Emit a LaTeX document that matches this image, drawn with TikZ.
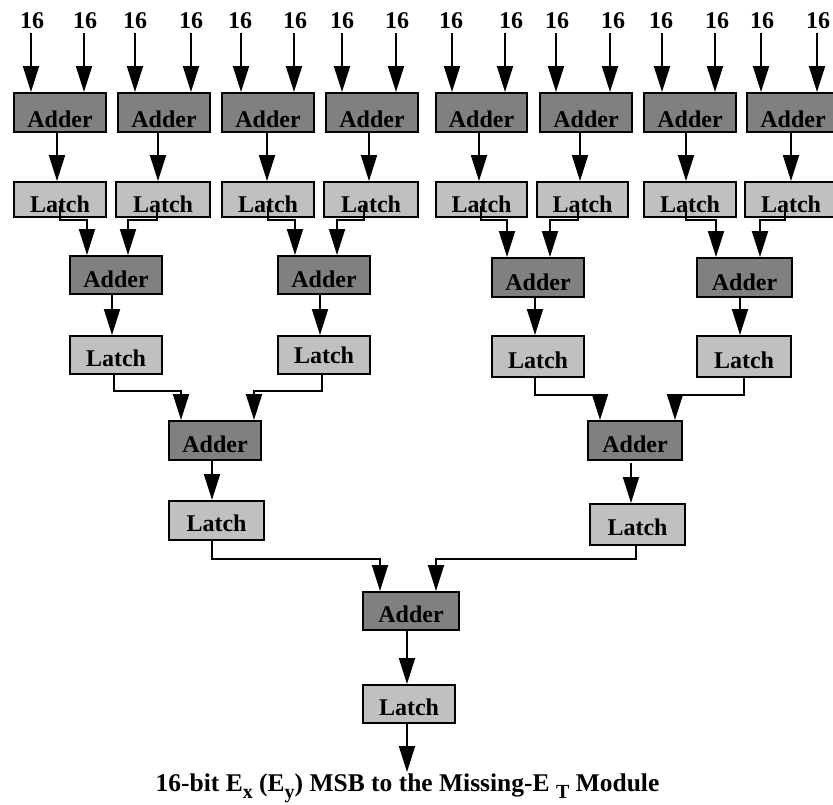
\documentclass[tikz,border=0pt]{standalone}
\usepackage{fontspec}
\setmainfont{Liberation Serif}
\usetikzlibrary{arrows.meta,calc}
\definecolor{adderfill}{RGB}{128,128,128}
\definecolor{latchfill}{RGB}{192,192,192}
\newcommand\lowsub[1]{\raisebox{-7pt}{\fontsize{20}{20}\selectfont #1}}
\begin{document}
\begin{tikzpicture}[x=1pt,y=-1pt,
  font=\fontsize{24}{28}\selectfont\bfseries,
  blk/.style={draw=black, line width=2pt, inner sep=0pt, anchor=center},
  adder/.style={blk, fill=adderfill},
  latch/.style={blk, fill=latchfill},
  lab/.style={inner sep=0pt, anchor=base},
  arr/.style={line width=2pt, line join=miter, -{Triangle[length=26pt,width=16pt]}}]
\fill[white] (0,0) rectangle (833,804);
\useasboundingbox (0,0) rectangle (833,804);
\clip (0,0) rectangle (833,804);

% ---------- input labels ----------
\foreach \n/\lx/\ax in {1/32/31,2/85/84,3/135/135,4/191/191,5/240/241,6/295/294,7/342/342,8/397/396,
  9/451/452,10/511/505,11/557/556,12/613/610,13/661/662,14/717/715,15/762/761,16/818/817}{
  \node[lab] (i\n) at (\lx,28) {16};
  \coordinate (p\n) at (\ax,33);
}

% ---------- level 1 adders ----------
\node[adder, minimum width=92pt, minimum height=39pt, text height=34pt, text depth=5pt] (a1) at (60,112.5) {Adder};
\node[adder, minimum width=92pt, minimum height=39pt, text height=34pt, text depth=5pt] (a2) at (164,112.5) {Adder};
\node[adder, minimum width=92pt, minimum height=39pt, text height=34pt, text depth=5pt] (a3) at (268,112.5) {Adder};
\node[adder, minimum width=92pt, minimum height=39pt, text height=34pt, text depth=5pt] (a4) at (372,112.5) {Adder};
\node[adder, minimum width=91pt, minimum height=39pt, text height=34pt, text depth=5pt] (a5) at (481.5,112.5) {Adder};
\node[adder, minimum width=92pt, minimum height=39pt, text height=34pt, text depth=5pt] (a6) at (586,112.5) {Adder};
\node[adder, minimum width=92pt, minimum height=39pt, text height=34pt, text depth=5pt] (a7) at (690,112.5) {Adder};
\node[adder, minimum width=92pt, minimum height=39pt, text height=34pt, text depth=5pt] (a8) at (793,112.5) {Adder};

% ---------- level 1 latches ----------
\node[latch, minimum width=92pt, minimum height=35pt, text height=30pt, text depth=5pt] (l1) at (60,199.5) {Latch\hspace{6pt}};
\node[latch, minimum width=94pt, minimum height=35pt, text height=30pt, text depth=5pt] (l2) at (163,199.5) {Latch\hspace{6pt}};
\node[latch, minimum width=92pt, minimum height=35pt, text height=30pt, text depth=5pt] (l3) at (268,199.5) {Latch\hspace{6pt}};
\node[latch, minimum width=94pt, minimum height=35pt, text height=30pt, text depth=5pt] (l4) at (371,199.5) {Latch\hspace{6pt}};
\node[latch, minimum width=91pt, minimum height=35pt, text height=30pt, text depth=5pt] (l5) at (481.5,199.5) {Latch\hspace{6pt}};
\node[latch, minimum width=91pt, minimum height=35pt, text height=30pt, text depth=5pt] (l6) at (582.5,199.5) {Latch\hspace{6pt}};
\node[latch, minimum width=92pt, minimum height=35pt, text height=30pt, text depth=5pt] (l7) at (690,199.5) {Latch\hspace{6pt}};
\node[latch, minimum width=92pt, minimum height=35pt, text height=30pt, text depth=5pt] (l8) at (791,199.5) {Latch\hspace{6pt}};

% ---------- level 2 ----------
\node[adder, minimum width=92pt, minimum height=38pt, text height=31pt, text depth=7pt] (b1) at (116,275) {Adder};
\node[adder, minimum width=92pt, minimum height=38pt, text height=31pt, text depth=7pt] (b2) at (324,275) {Adder};
\node[adder, minimum width=92pt, minimum height=39pt, text height=32pt, text depth=7pt] (b3) at (538,277.5) {Adder};
\node[adder, minimum width=95pt, minimum height=39pt, text height=32pt, text depth=7pt] (b4) at (744.5,277.5) {Adder};

\node[latch, minimum width=92pt, minimum height=38pt, text height=30pt, text depth=8pt] (m1) at (116,355) {Latch\hspace{8pt}};
\node[latch, minimum width=92pt, minimum height=38pt, text height=27pt, text depth=11pt] (m2) at (324,355) {Latch\hspace{12pt}};
\node[latch, minimum width=92pt, minimum height=41pt, text height=32pt, text depth=9pt] (m3) at (538,356.5) {Latch\hspace{8pt}};
\node[latch, minimum width=94pt, minimum height=41pt, text height=32pt, text depth=9pt] (m4) at (744,356.5) {Latch\hspace{8pt}};

% ---------- level 3 ----------
\node[adder, minimum width=92pt, minimum height=39pt, text height=31pt, text depth=8pt] (c1) at (215,440.5) {Adder};
\node[adder, minimum width=94pt, minimum height=39pt, text height=31pt, text depth=8pt] (c2) at (635,440.5) {Adder};
\node[latch, minimum width=95pt, minimum height=39pt, text height=30pt, text depth=9pt] (n1) at (216.5,520.5) {Latch\hspace{12pt}};
\node[latch, minimum width=95pt, minimum height=41pt, text height=31pt, text depth=10pt] (n2) at (637.5,524.5) {Latch\hspace{8pt}};

% ---------- level 4 ----------
\node[adder, minimum width=96pt, minimum height=38pt, text height=30pt, text depth=8pt] (d) at (411,611) {Adder};
\node[latch, minimum width=92pt, minimum height=38pt, text height=30pt, text depth=8pt] (e) at (409,704) {Latch\hspace{6pt}};

\coordinate (out) at (407,772);
\node[lab, font=\fontsize{25.5}{30}\selectfont\bfseries] (cap) at (407.5,791)
  {16-bit E\lowsub{x} (E\lowsub{y}) MSB to the Missing-E \lowsub{T} Module};

% ---------- input arrows ----------
\draw[arr] (p1) -- (p1 |- a1.north);
\draw[arr] (p2) -- (p2 |- a1.north);
\draw[arr] (p3) -- (p3 |- a2.north);
\draw[arr] (p4) -- (p4 |- a2.north);
\draw[arr] (p5) -- (p5 |- a3.north);
\draw[arr] (p6) -- (p6 |- a3.north);
\draw[arr] (p7) -- (p7 |- a4.north);
\draw[arr] (p8) -- (p8 |- a4.north);
\draw[arr] (p9) -- (p9 |- a5.north);
\draw[arr] (p10) -- (p10 |- a5.north);
\draw[arr] (p11) -- (p11 |- a6.north);
\draw[arr] (p12) -- (p12 |- a6.north);
\draw[arr] (p13) -- (p13 |- a7.north);
\draw[arr] (p14) -- (p14 |- a7.north);
\draw[arr] (p15) -- (p15 |- a8.north);
\draw[arr] (p16) -- (p16 |- a8.north);

% ---------- adder -> latch (level 1) ----------
\draw[arr] ([xshift=-3pt]a1.south) -- ([xshift=-3pt]a1.south |- l1.north);
\draw[arr] ([xshift=-6pt]a2.south) -- ([xshift=-6pt]a2.south |- l2.north);
\draw[arr] ([xshift=-1pt]a3.south) -- ([xshift=-1pt]a3.south |- l3.north);
\draw[arr] ([xshift=-3pt]a4.south) -- ([xshift=-3pt]a4.south |- l4.north);
\draw[arr] ([xshift=-2.5pt]a5.south) -- ([xshift=-2.5pt]a5.south |- l5.north);
\draw[arr] ([xshift=-6pt]a6.south) -- ([xshift=-6pt]a6.south |- l6.north);
\draw[arr] ([xshift=-4pt]a7.south) -- ([xshift=-4pt]a7.south |- l7.north);
\draw[arr] ([xshift=-2pt]a8.south) -- ([xshift=-2pt]a8.south |- l8.north);

% ---------- latch (level 1) -> adder (level 2) ----------
\draw[arr] ([yshift=12pt]l1.south) -- ++(0,14) -| ([xshift=-29pt]b1.north);
\draw[arr] ([xshift=-6pt,yshift=12pt]l2.south) -- ++(0,14) -| ([xshift=12pt]b1.north);
\draw[arr] ([yshift=12pt]l3.south) -- ++(0,14) -| ([xshift=-29pt]b2.north);
\draw[arr] ([xshift=-7pt,yshift=12pt]l4.south) -- ++(0,14) -| ([xshift=13pt]b2.north);
\draw[arr] ([xshift=-0.5pt,yshift=12pt]l5.south) -- ++(0,14) -| ([xshift=-31pt]b3.north);
\draw[arr] ([xshift=-4.5pt,yshift=12pt]l6.south) -- ++(0,14) -| ([xshift=12pt]b3.north);
\draw[arr] ([xshift=-4pt,yshift=12pt]l7.south) -- ++(0,14) -| ([xshift=-28.5pt]b4.north);
\draw[arr] ([xshift=-6pt,yshift=12pt]l8.south) -- ++(0,14) -| ([xshift=15.5pt]b4.north);

% ---------- level 2 adder -> latch ----------
\draw[arr] ([xshift=-4pt]b1.south) -- ([xshift=-4pt]b1.south |- m1.north);
\draw[arr] ([xshift=-4pt]b2.south) -- ([xshift=-4pt]b2.south |- m2.north);
\draw[arr] ([xshift=-3pt]b3.south) -- ([xshift=-3pt]b3.south |- m3.north);
\draw[arr] ([xshift=-4.5pt]b4.south) -- ([xshift=-4.5pt]b4.south |- m4.north);

% ---------- latch (level 2) -> adder (level 3) ----------
\draw[arr] ([xshift=-2pt]m1.south) -- ++(0,16) -| ([xshift=-34pt]c1.north);
\draw[arr] ([xshift=-2pt]m2.south) -- ++(0,16) -| ([xshift=39pt]c1.north);
\draw[arr] ([xshift=-3pt]m3.south) -- ++(0,17) -| ([xshift=-35pt]c2.north);
\draw[arr] (m4.south) -- ++(0,17) -| ([xshift=40pt]c2.north);

% ---------- level 3 adder -> latch ----------
\draw[arr] ([xshift=-3pt]c1.south) -- ([xshift=-3pt]c1.south |- n1.north);
\draw[arr] ([xshift=-4pt,yshift=-2pt]c2.south) -- ([xshift=-4pt]c2.south |- n2.north);

% ---------- latch (level 3) -> final adder ----------
\draw[arr] ([xshift=-4.5pt]n1.south) -- ++(0,18) -| ([xshift=-31pt]d.north);
\draw[arr] ([xshift=-1.5pt]n2.south) -- ++(0,13) -| ([xshift=25pt]d.north);

% ---------- final ----------
\draw[arr] ([xshift=-4pt]d.south) -- ([xshift=-4pt]d.south |- e.north);
\draw[arr] (e.south -| out) -- (out);
\end{tikzpicture}
\end{document}
